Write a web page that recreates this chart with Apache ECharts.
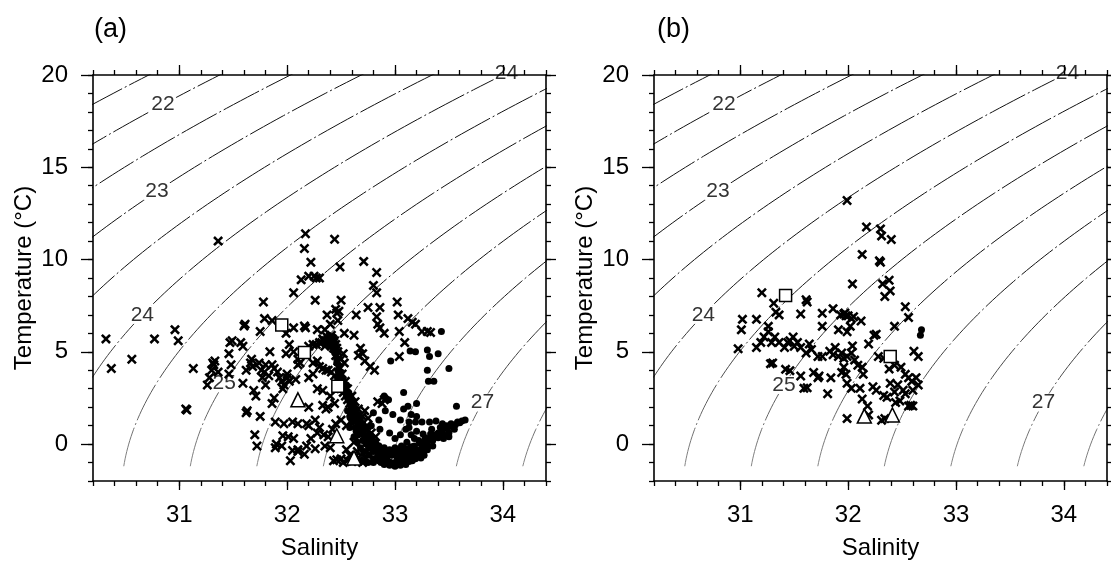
<!DOCTYPE html>
<html>
<head>
<meta charset="utf-8">
<script src="https://cdn.jsdelivr.net/npm/echarts@6/dist/echarts.min.js"></script>
<style>
html, body { margin: 0; padding: 0; background: #fff; }
#main { width: 1111px; height: 565px; }
</style>
</head>
<body>
<div id="main"></div>
<script>
// isopycnal levels (sigma-t) and where each label sits: [level, temperature]
var sigmaLevels = [21.5, 22, 22.5, 23, 23.5, 24, 24.5, 25, 25.5, 26, 26.5, 27, 27.5];
var labelSpotsA = [[22, 18.4], [23, 13.7], [24, 7.0], [25, 3.3], [27, 2.25], [24, 20.1]];
var labelSpotsB = [[22, 18.4], [23, 13.7], [24, 7.0], [25, 3.2], [27, 2.25], [24, 20.1]];
var salTicks = [31, 32, 33, 34];
var tempTicks = [0, 5, 10, 15, 20];

// panel (a) observations [salinity, temperature]
var crossA = [
  [30.32,5.7],[30.37,4.1],[30.56,4.6],[30.77,5.7],[30.96,6.2],[30.99,5.6],[31.07,1.85],[31.06,1.9],[31.13,4.1],[31.36,11.0],
  [31.26,3.2],[31.28,3.6],[31.30,4.0],[31.31,4.4],[31.33,4.5],[31.32,4.3],[31.36,3.9],[31.46,4.9],[31.47,5.5],[31.49,5.6],
  [31.48,4.3],[31.46,3.8],[31.57,5.5],[31.59,5.3],[31.60,6.4],[31.61,6.5],[31.59,3.3],[31.62,4.0],[31.63,1.8],[31.62,1.7],
  [31.66,4.4],[31.67,4.6],[31.68,4.2],[31.69,2.9],[31.71,2.6],[31.70,0.5],[31.72,-0.1],
  [31.78,7.7],[31.79,6.8],[31.75,6.1],[31.86,6.7],[31.84,5.0],[31.80,4.3],[31.79,3.9],[31.76,4.0],[31.74,4.4],[31.77,3.6],
  [31.80,3.2],[31.83,3.7],[31.86,4.3],[31.88,4.1],[31.91,3.9],[31.93,3.6],[31.95,3.4],[31.97,3.2],[32.00,3.6],[32.00,3.8],
  [31.88,2.5],[31.86,2.2],[31.96,3.0],[32.02,3.4],[31.75,1.5],[31.89,1.2],[31.97,1.1],[32.05,1.2],[32.10,1.1],[32.18,1.1],
  [32.20,1.0],[32.01,0.4],[32.06,0.3],[31.96,0.45],[31.90,0.0],[32.03,-0.9],[32.18,-0.1],[32.26,-0.25],[32.22,0.3],[32.10,-0.3],
  [32.05,-0.35],[32.16,-0.55],[32.10,-0.4],[31.89,-0.2],[31.95,-0.1],
  [32.17,11.4],[32.16,10.6],[32.22,9.85],[32.20,9.1],[32.25,9.1],[32.27,9.0],[32.30,9.0],[32.13,8.9],[32.06,8.2],[32.26,7.8],
  [32.28,6.2],[32.16,6.4],[32.06,6.3],[32.17,6.3],[31.99,6.0],[32.02,5.4],[31.99,4.9],[32.06,5.0],[32.10,4.6],[32.10,4.3],
  [32.08,3.5],[32.12,4.4],
  [32.20,5.3],[32.24,5.4],[32.27,5.4],[32.30,5.5],[32.32,5.5],[32.34,5.6],[32.36,5.6],[32.38,5.7],[32.40,5.8],[32.41,5.9],
  [32.42,5.7],[32.43,5.5],[32.44,5.6],[32.45,5.4],[32.39,5.5],[32.37,5.8],[32.35,5.3],[32.33,5.7],[32.46,5.2],[32.47,5.0],
  [32.44,11.1],[32.49,9.6],[32.50,7.8],[32.45,7.3],[32.46,7.1],[32.48,7.2],[32.37,7.0],[32.53,6.0],[32.47,6.7],[32.35,6.2],[32.40,6.5],
  [32.24,4.4],[32.28,4.5],[32.30,4.2],[32.33,4.1],[32.36,4.0],[32.38,4.0],[32.41,3.9],[32.44,3.7],[32.46,3.5],[32.48,3.3],
  [32.50,3.0],[32.52,2.8],[32.54,2.6],[32.56,2.4],[32.58,2.2],[32.60,2.0],[32.50,4.6],[32.52,4.9],[32.53,4.4],[32.20,3.6],
  [32.24,3.8],[32.28,3.0],[32.33,2.1],[32.36,1.9],[32.38,2.0],[32.40,2.6],[32.44,2.2],[32.33,2.9],[32.20,2.0],[32.26,1.3],
  [32.30,0.9],[32.34,0.5],[32.38,0.4],[32.42,0.8],[32.45,1.1],[32.50,1.3],[32.55,1.0],[32.60,1.5],[32.28,0.6],[32.35,-0.1],[32.40,-0.2],
  [32.43,-0.9],[32.46,-0.85],[32.50,-0.8],[32.52,-1.0],[32.56,-0.9],[32.60,-0.95],[32.63,-0.7],[32.66,-0.9],[32.70,-1.0],
  [32.73,-0.8],[32.58,-0.6],[32.65,-0.4],[32.70,-0.5],[32.55,-0.3],
  [32.71,9.9],[32.83,9.3],[32.80,8.6],[32.83,8.2],[32.86,7.4],[32.75,7.4],[32.83,6.9],[32.84,6.5],[32.86,6.3],[32.90,6.0],
  [32.64,7.0],[32.68,5.2],[32.70,4.9],[32.72,4.5],[32.77,4.2],[32.81,4.0],[32.66,4.8],[32.62,5.9],[32.90,2.4],[32.88,2.2],
  [32.84,2.3],[32.75,1.4],[32.72,1.8],[32.68,0.7],
  [33.02,7.7],[33.03,7.0],[33.12,6.8],[33.04,6.1],[33.19,6.5],[33.25,6.1],[33.30,6.1],[33.33,6.05],[33.09,5.5],[33.04,4.75],[33.16,6.6],
  [32.43,5.2],[32.45,4.8],[32.47,4.5],[32.49,4.1],[32.51,3.8],[32.54,3.4],[32.56,3.0],[32.60,2.6],[32.63,2.3],[32.66,1.9],
  [32.70,1.5],[32.74,1.0],[32.78,0.6],[32.82,0.4],[32.62,0.1],[32.76,-0.3]
];
var dotA = [
  [32.38,5.6],[32.40,5.7],[32.42,5.6],[32.41,5.5],[32.39,5.8],[32.43,5.8],[32.44,5.5],[32.37,5.5],
  [32.45,4.9],[32.46,4.4],[32.47,4.0],[32.49,3.7],[32.50,3.5],[32.52,3.2],[32.53,3.0],[32.55,2.7],[32.57,2.4],[32.59,2.1],
  [32.60,1.8],[32.62,1.5],[32.64,1.3],[32.66,1.0],[32.68,0.8],[32.70,0.6],[32.72,0.4],[32.75,0.2],[32.78,0.0],[32.80,-0.2],
  [32.83,-0.35],[32.86,-0.5],[32.48,3.8],[32.51,3.3],[32.54,2.9],[32.56,2.5],[32.58,2.3],[32.61,1.9],[32.63,1.6],[32.65,1.2],
  [32.67,0.9],[32.69,0.7],[32.71,0.5],[32.74,0.3],[32.77,0.1],[32.60,1.2],[32.63,0.9],[32.66,0.5],[32.70,0.2],[32.73,0.0],
  [32.76,-0.2],[32.80,-0.4],[32.84,-0.6],[32.88,-0.7],[32.65,0.1],[32.68,-0.2],[32.72,-0.4],[32.76,-0.6],[32.80,-0.8],
  [32.60,-0.7],[32.64,-0.8],[32.70,-0.9],[32.75,-1.0],[32.80,-1.0],
  [32.90,-0.8],[32.93,-0.9],[32.96,-1.0],[33.00,-1.0],[33.03,-1.05],[33.06,-1.0],[33.10,-1.0],[33.13,-0.95],[33.16,-0.9],
  [33.19,-0.8],[32.90,-1.1],[32.95,-1.15],[33.00,-1.2],[33.05,-1.15],[33.10,-1.1],[32.92,-0.5],[32.97,-0.6],[33.02,-0.7],
  [33.07,-0.75],[33.12,-0.7],[33.17,-0.6],[33.22,-0.5],[32.95,-0.3],[33.00,-0.4],[33.05,-0.5],[33.10,-0.45],[33.15,-0.4],
  [33.20,-0.3],[33.25,-0.2],[33.27,-0.6],[33.24,-0.75],[33.00,-0.2],[33.08,-0.2],[32.90,-0.2],[32.85,-0.1],
  [33.25,0.0],[33.28,0.15],[33.32,0.3],[33.36,0.45],[33.40,0.6],[33.44,0.75],[33.48,0.85],[33.52,0.95],[33.56,1.05],
  [33.60,1.15],[33.65,1.3],[33.30,0.0],[33.35,0.2],[33.40,0.35],[33.45,0.5],[33.50,0.6],[33.55,0.8],[33.30,-0.3],[33.35,-0.1],
  [33.38,0.5],[33.42,0.9],[33.48,1.0],[33.52,1.1],[33.57,2.05],[33.22,0.2],[33.18,0.3],[33.15,0.5],
  [33.43,6.1],[32.96,4.5],[33.19,5.0],[33.14,5.05],[33.30,5.1],[33.32,4.75],[33.40,4.9],[33.50,4.1],[33.30,4.0],[33.31,3.4],
  [33.36,3.4],[33.12,2.05],[33.08,1.9],[33.15,1.6],[33.20,1.5],[33.19,1.2],[33.13,1.2],[32.90,2.6],[32.94,2.4],[32.91,1.8],
  [32.98,1.6],[33.05,1.3],[33.25,1.2],[33.32,1.2],[33.38,1.25],[33.44,1.1],[33.10,0.8],[33.05,0.5],[33.00,0.3],[32.95,0.6],
  [32.85,1.3],[32.80,1.7],[33.08,2.8],[33.20,2.2],[32.86,0.8],[32.78,1.0],[33.13,0.9],
  [32.40,5.3],[32.43,5.1],[32.44,4.95],[32.46,4.6],[32.48,4.2],[32.50,3.9],[32.52,3.5],[32.55,3.2],[32.57,2.8],[32.59,2.6],
  [32.62,2.2],[32.64,1.9],[32.66,1.6],[32.68,1.3],[32.70,1.1],[32.73,0.8],[32.76,0.55],[32.79,0.35],[32.82,0.1],[32.85,-0.1],
  [32.88,-0.3],[32.91,-0.45],[32.56,1.8],[32.58,1.5],[32.62,0.4],[32.64,0.7],[32.58,0.9],[32.85,-0.9],[32.87,-1.0],[32.98,-1.1],
  [33.03,-0.85],[33.08,-0.9],[33.14,-0.8],[33.20,-0.65],[33.26,-0.4],[33.30,-0.15],[32.98,-0.45],[33.04,-0.3],[33.12,-0.25],
  [33.18,-0.1],[33.23,0.05],[33.28,0.35],[33.33,0.55],[33.10,-0.6],[33.15,-0.15],[32.93,-0.65],[33.06,-0.1],[33.11,0.1],
  [33.20,0.7],[33.26,0.55],[33.34,0.8],[33.58,1.2],[33.62,1.25],[33.45,0.3],[33.50,0.4]
];
var squareA = [[31.95,6.45],[32.16,4.96],[32.47,3.13]];
var triA = [[32.10,2.4],[32.46,0.45],[32.62,-0.75]];

// panel (b) observations
var crossB = [
  [31.99,13.2],[32.17,11.76],[32.30,11.66],[32.31,11.28],[32.40,11.09],[32.13,10.28],[32.29,9.93],[32.30,9.85],[32.04,8.68],
  [32.32,8.68],[32.38,8.88],[32.39,8.3],[32.34,8.0],[31.20,8.2],[31.61,7.82],[31.62,7.7],[31.31,7.63],[31.33,7.15],[31.36,7.0],
  [31.02,6.76],[31.01,6.19],[31.15,6.76],[30.98,5.17],[31.56,7.05],[31.76,7.09],[31.76,6.38],[31.86,7.34],[31.93,7.0],
  [31.96,7.05],[31.98,6.95],[32.05,6.9],[32.03,6.8],[31.91,6.19],[31.99,6.09],[32.02,6.38],[32.12,6.67],[32.24,5.9],[32.26,5.95],
  [32.53,7.44],[32.56,6.86],[32.43,6.38],[32.61,5.03],[32.65,4.75],[31.46,5.6],[31.50,5.3],[31.30,4.4],[31.42,4.05],[31.62,3.05],[31.72,3.6],
  [31.15,5.23],[31.19,5.51],[31.22,5.8],[31.26,6.09],[31.26,6.38],[31.29,5.51],[31.32,5.8],[31.36,5.51],[31.41,5.23],[31.44,5.51],
  [31.49,5.8],[31.53,5.51],[31.56,5.23],[31.61,4.94],[31.66,5.13],[31.64,5.42],[31.72,4.75],[31.76,4.75],[31.83,5.03],[31.86,4.84],
  [31.88,5.23],[31.91,4.75],[31.94,4.94],[31.96,4.65],[31.99,4.75],[32.03,4.94],[32.04,5.32],[32.06,4.55],[32.09,4.27],[32.13,4.17],
  [32.14,3.78],[31.96,4.17],[31.94,3.88],[31.98,3.78],[31.99,3.3],[31.68,3.88],[31.73,3.69],[31.59,3.02],[31.56,3.69],[31.46,3.98],
  [31.28,4.36],[31.84,3.59],[31.81,2.73],[32.03,3.02],[32.11,3.02],[32.13,2.44],[32.18,2.06],[32.19,1.58],[32.23,3.11],[32.26,2.92],
  [32.28,4.75],[32.19,5.42],[32.33,4.65],[32.38,4.07],[32.43,4.27],[32.39,3.3],[32.33,2.63],[32.36,2.54],[32.43,2.82],[32.44,2.25],
  [32.48,2.34],[32.49,4.17],[32.53,3.78],[32.56,3.59],[32.59,3.4],[32.60,2.92],[32.56,2.06],[32.53,2.73],[32.60,2.06],[32.46,3.21],
  [32.51,2.92],[31.99,1.38],[32.31,1.29],[32.34,1.38],[32.65,3.2],[32.63,3.6],[32.58,2.1],[31.97,7.1],[32.00,6.95]
];
var dotB = [[32.68,6.2],[32.67,5.9]];
var squareB = [[31.42,8.05],[32.39,4.75]];
var triB = [[32.15,1.52],[32.41,1.58]];

// UNESCO 1980 equation of state at the surface
function sigmaT(S, T) {
  var rw = 999.842594 + 6.793952e-2 * T - 9.095290e-3 * T * T + 1.001685e-4 * Math.pow(T, 3)
    - 1.120083e-6 * Math.pow(T, 4) + 6.536332e-9 * Math.pow(T, 5);
  var A = 8.24493e-1 - 4.0899e-3 * T + 7.6438e-5 * T * T - 8.2467e-7 * Math.pow(T, 3) + 5.3875e-9 * Math.pow(T, 4);
  var B = -5.72466e-3 + 1.0227e-4 * T - 1.6546e-6 * T * T;
  var C = 4.8314e-4;
  return rw + A * S + B * Math.pow(S, 1.5) + C * S * S - 1000;
}
function salinityFor(level, T) {
  var lo = 20, hi = 40;
  for (var i = 0; i < 50; i++) {
    var mid = (lo + hi) / 2;
    if (sigmaT(mid, T) < level) lo = mid; else hi = mid;
  }
  return (lo + hi) / 2;
}
function isoLine(level) {
  var pts = [];
  for (var T = -1.2; T <= 21; T += 0.2) pts.push([salinityFor(level, T), T]);
  return pts;
}

var font = 'Liberation Sans, Arial, Helvetica, sans-serif';
var crossPath = 'path://M0,1.8L1.8,0L5,3.2L8.2,0L10,1.8L6.8,5L10,8.2L8.2,10L5,6.8L1.8,10L0,8.2L3.2,5Z';
var axisColor = '#000';

var grids = [
  { left: 93, top: 75, width: 453, height: 409 },
  { left: 654, top: 75, width: 453, height: 409 }
];

var xAxes = [], yAxes = [], series = [], contourIdx = [];

function addPanel(g, crosses, dots, squares, tris, spots) {
  var line = { color: axisColor, width: 1.6 };
  var tick = { color: axisColor, width: 1.3 };
  var base = xAxes.length;
  xAxes.push({
    gridIndex: g, type: 'value', min: 30.2, max: 34.4, position: 'bottom', z: 5,
    axisLine: { show: true, onZero: false, lineStyle: line },
    axisTick: { show: true, customValues: salTicks, length: 9, lineStyle: tick },
    axisLabel: { customValues: salTicks, fontSize: 24, color: '#000', margin: 22, fontFamily: font },
    splitLine: { show: false },
    name: 'Salinity', nameLocation: 'middle', nameGap: 55,
    nameTextStyle: { fontSize: 24, color: '#000', fontFamily: font }
  });
  xAxes.push({
    gridIndex: g, type: 'value', min: 30.2, max: 34.4, interval: 0.2, position: 'bottom', z: 5,
    axisLine: { show: false, onZero: false }, axisTick: { length: 5, lineStyle: tick },
    axisLabel: { show: false }, splitLine: { show: false }
  });
  xAxes.push({
    gridIndex: g, type: 'value', min: 30.2, max: 34.4, position: 'top', z: 5,
    axisLine: { show: true, onZero: false, lineStyle: line },
    axisTick: { show: true, customValues: salTicks, length: 10, lineStyle: tick },
    axisLabel: { show: false }, splitLine: { show: false }
  });
  xAxes.push({
    gridIndex: g, type: 'value', min: 30.2, max: 34.4, interval: 0.2, position: 'top', z: 5,
    axisLine: { show: false, onZero: false }, axisTick: { length: 5, lineStyle: tick },
    axisLabel: { show: false }, splitLine: { show: false }
  });
  yAxes.push({
    gridIndex: g, type: 'value', min: -2, max: 20, position: 'left', z: 5,
    axisLine: { show: true, onZero: false, lineStyle: line },
    axisTick: { show: true, customValues: tempTicks, length: 12, lineStyle: tick },
    axisLabel: { customValues: tempTicks, fontSize: 24, color: '#000', margin: 25, fontFamily: font },
    splitLine: { show: false },
    name: 'Temperature (°C)', nameLocation: 'middle', nameGap: 57,
    nameTextStyle: { fontSize: 24, color: '#000', fontFamily: font }
  });
  yAxes.push({
    gridIndex: g, type: 'value', min: -2, max: 20, interval: 1, position: 'left', z: 5,
    axisLine: { show: false, onZero: false }, axisTick: { length: 5, lineStyle: tick },
    axisLabel: { show: false }, splitLine: { show: false }
  });
  yAxes.push({
    gridIndex: g, type: 'value', min: -2, max: 20, position: 'right', z: 5,
    axisLine: { show: true, onZero: false, lineStyle: line },
    axisTick: { show: true, customValues: tempTicks, length: 10, lineStyle: tick },
    axisLabel: { show: false }, splitLine: { show: false }
  });
  yAxes.push({
    gridIndex: g, type: 'value', min: -2, max: 20, interval: 1, position: 'right', z: 5,
    axisLine: { show: false, onZero: false }, axisTick: { length: 5, lineStyle: tick },
    axisLabel: { show: false }, splitLine: { show: false }
  });

  sigmaLevels.forEach(function (lv) {
    contourIdx.push(series.length);
    series.push({
      type: 'line', xAxisIndex: base, yAxisIndex: base, data: isoLine(lv),
      showSymbol: false, silent: true, z: 1, clip: true,
      lineStyle: { width: 1, type: [40, 3, 2, 3] }
    });
  });
  series.push({
    type: 'scatter', xAxisIndex: base, yAxisIndex: base, z: 2, silent: true, clip: false,
    symbol: 'rect', symbolSize: [26, 18], itemStyle: { color: '#fff', opacity: 1 },
    data: spots.map(function (s) { return [salinityFor(s[0], s[1]), s[1], s[0]]; }),
    label: {
      show: true, position: 'inside', fontSize: 21, color: '#333', fontFamily: font,
      formatter: function (p) { return String(p.value[2]); }
    }
  });
  series.push({
    type: 'scatter', xAxisIndex: base, yAxisIndex: base, z: 3, silent: true,
    symbol: crossPath, symbolSize: 10, itemStyle: { color: '#000', opacity: 1 }, data: crosses
  });
  series.push({
    type: 'scatter', xAxisIndex: base, yAxisIndex: base, z: 3, silent: true,
    symbol: 'circle', symbolSize: 7, itemStyle: { color: '#000', opacity: 1 }, data: dots
  });
  series.push({
    type: 'scatter', xAxisIndex: base, yAxisIndex: base, z: 4, silent: true,
    symbol: 'rect', symbolSize: 12,
    itemStyle: { color: '#fff', borderColor: '#000', borderWidth: 1.5, opacity: 1 }, data: squares
  });
  series.push({
    type: 'scatter', xAxisIndex: base, yAxisIndex: base, z: 4, silent: true,
    symbol: 'triangle', symbolSize: 14,
    itemStyle: { color: '#fff', borderColor: '#000', borderWidth: 1.5, opacity: 1 }, data: tris
  });
}

addPanel(0, crossA, dotA, squareA, triA, labelSpotsA);
addPanel(1, crossB, dotB, squareB, triB, labelSpotsB);

var chart = echarts.init(document.getElementById('main'), null, { renderer: 'canvas' });
chart.setOption({
  backgroundColor: '#fff',
  animation: false,
  graphic: [
    { type: 'text', left: 94, top: 16, style: { text: '(a)', font: '27px ' + font, fill: '#000' } },
    { type: 'text', left: 657, top: 16, style: { text: '(b)', font: '27px ' + font, fill: '#000' } }
  ],
  visualMap: {
    show: false, type: 'continuous', dimension: 1, min: -1.5, max: 9,
    seriesIndex: contourIdx, inRange: { color: ['#8a8a8a', '#111111'] }
  },
  grid: grids,
  xAxis: xAxes,
  yAxis: yAxes,
  series: series
});

window.addEventListener('resize', function () {
  chart.resize();
});
</script>
</body>
</html>
